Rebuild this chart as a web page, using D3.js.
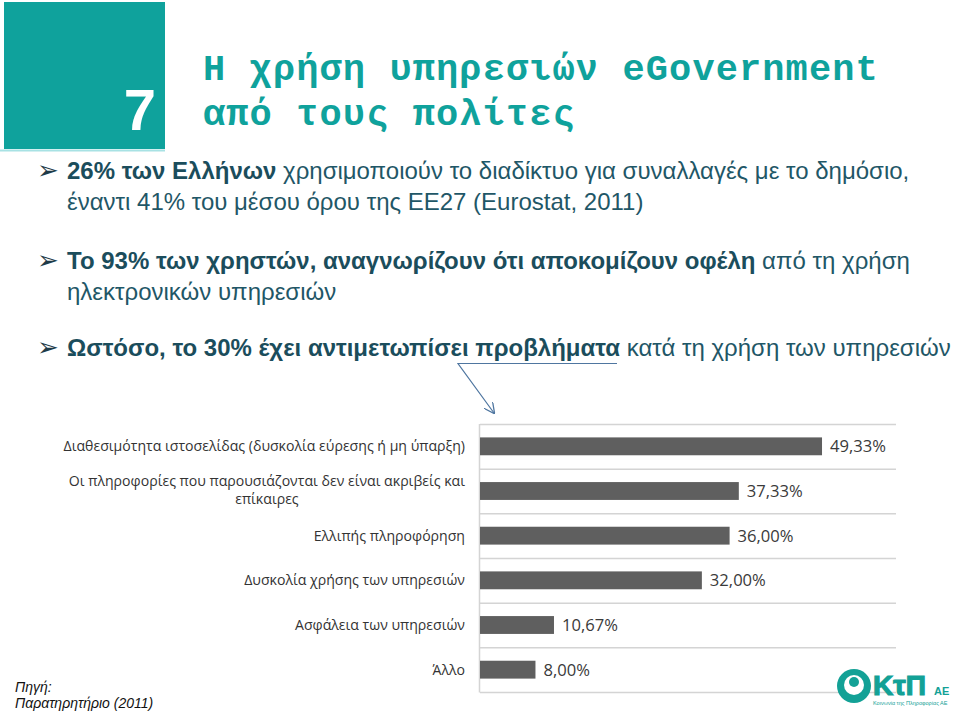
<!DOCTYPE html>
<html>
<head>
<meta charset="utf-8">
<script src="https://cdn.jsdelivr.net/npm/d3@7"></script>
<style>
  body { margin: 0; background: #fff; }
  svg { display: block; }
</style>
</head>
<body>
<div id="container"></div>
<script>
const categories = [
  'Διαθεσιμότητα  ιστοσελίδας (δυσκολία εύρεσης ή μη ύπαρξη)',
  'Οι πληροφορίες που παρουσιάζονται δεν είναι ακριβείς και\nεπίκαιρες',
  'Ελλιπής πληροφόρηση',
  'Δυσκολία χρήσης των υπηρεσιών',
  'Ασφάλεια των υπηρεσιών',
  'Άλλο',
];
const values = [49.33, 37.33, 36.0, 32.0, 10.67, 8.0];

const titleLines = ['Η χρήση υπηρεσιών eGovernment', 'από τους πολίτες'];

// each bullet: lines of [bold, regular] pieces
const bullets = [
  [
    ['26% των Ελλήνων', ' χρησιμοποιούν το διαδίκτυο για συναλλαγές με το δημόσιο,'],
    ['', 'έναντι 41% του μέσου όρου της ΕΕ27 (Eurostat, 2011)'],
  ],
  [
    ['Το 93% των χρηστών, αναγνωρίζουν ότι αποκομίζουν οφέλη', ' από τη χρήση'],
    ['', 'ηλεκτρονικών υπηρεσιών'],
  ],
  [
    ['Ωστόσο, το 30% έχει αντιμετωπίσει προβλήματα', ' κατά τη χρήση των υπηρεσιών'],
  ],
];
const bulletY = [179, 269, 356];

const width = 960;
const height = 712;
const teal = '#0fa29c';
const textColor = '#1f5767';

const svg = d3
  .select('#container')
  .append('svg')
  .attr('width', width)
  .attr('height', height);

// header box
svg.append('rect')
  .attr('x', 4).attr('y', 2)
  .attr('width', 161).attr('height', 147)
  .attr('fill', teal);
svg.append('line')
  .attr('x1', 0).attr('x2', 165).attr('y1', 150.5).attr('y2', 150.5)
  .attr('stroke', '#a8e2e4').attr('stroke-width', 2);
svg.append('text')
  .attr('x', 156).attr('y', 130)
  .attr('text-anchor', 'end')
  .attr('font-family', 'Liberation Sans, Arial, sans-serif')
  .attr('font-weight', 'bold')
  .attr('font-size', 58)
  .attr('fill', '#fff')
  .text('7');

svg.selectAll('.title')
  .data(titleLines)
  .enter()
  .append('text')
  .attr('class', 'title')
  .attr('x', 203)
  .attr('y', (d, i) => 80 + i * 45)
  .attr('font-family', 'Liberation Mono, monospace')
  .attr('font-weight', 'bold')
  .attr('font-size', 37)
  .attr('letter-spacing', 1.1)
  .attr('fill', teal)
  .text(d => d);

// bullets
bullets.forEach((lines, bi) => {
  svg.append('text')
    .attr('x', 37).attr('y', bulletY[bi])
    .attr('font-family', 'DejaVu Sans, sans-serif')
    .attr('font-size', 26)
    .attr('fill', '#1e3b48')
    .text('➢');
  lines.forEach((parts, li) => {
    const t = svg.append('text')
      .attr('x', 67)
      .attr('y', bulletY[bi] + li * 31)
      .attr('font-family', 'Liberation Sans, Arial, sans-serif')
      .attr('font-size', 24)
      .attr('fill', textColor);
    if (parts[0]) t.append('tspan').attr('font-weight', 'bold').attr('fill', '#1b4d5c').text(parts[0]);
    t.append('tspan').text(parts[1]);
  });
});

// connector arrow
svg.append('defs').append('marker')
  .attr('id', 'arrow')
  .attr('viewBox', '0 0 10 10')
  .attr('refX', 9).attr('refY', 5)
  .attr('markerWidth', 9).attr('markerHeight', 9)
  .attr('orient', 'auto')
  .append('path')
  .attr('d', 'M0,0 L10,5 L0,10')
  .attr('fill', 'none')
  .attr('stroke', '#4f76a0')
  .attr('stroke-width', 1.2);
svg.append('polyline')
  .attr('points', '617,363.5 458,363.5 494,413')
  .attr('fill', 'none')
  .attr('stroke', '#4f76a0')
  .attr('stroke-width', 1.2)
  .attr('marker-end', 'url(#arrow)');

// chart
const x = d3.scaleLinear().domain([0, 60]).range([480, 896]);
const y = d3.scaleBand()
  .domain(categories)
  .range([424, 692])
  .paddingInner(0.6)
  .paddingOuter(0.3);

const gridY = categories.map(c => y(c) - (y.step() * y.paddingInner()) / 2).concat([692]);

svg.selectAll('.grid')
  .data(gridY)
  .enter()
  .append('line')
  .attr('class', 'grid')
  .attr('x1', x(0)).attr('x2', x(60))
  .attr('y1', d => d + 0.5).attr('y2', d => d + 0.5)
  .attr('stroke', '#d4d4d4')
  .attr('stroke-width', 1.5);

svg.append('line')
  .attr('x1', x(0) - 0.5).attr('x2', x(0) - 0.5)
  .attr('y1', 424).attr('y2', 692.5)
  .attr('stroke', '#d4d4d4')
  .attr('stroke-width', 1.5);

svg.selectAll('.bar')
  .data(values)
  .enter()
  .append('rect')
  .attr('class', 'bar')
  .attr('x', x(0))
  .attr('y', (d, i) => y(categories[i]))
  .attr('width', d => x(d) - x(0))
  .attr('height', y.bandwidth())
  .attr('fill', '#5f5f5f');

const greek = d3.formatLocale({ decimal: ',', thousands: '.', grouping: [3], currency: ['', '€'] });
const fmt = greek.format('.2f');

svg.selectAll('.val')
  .data(values)
  .enter()
  .append('text')
  .attr('class', 'val')
  .attr('x', d => x(d) + 8)
  .attr('y', (d, i) => y(categories[i]) + y.bandwidth() / 2 + 6)
  .attr('font-family', 'Open Sans, sans-serif')
  .attr('font-size', 16.6)
  .attr('fill', '#3a3a3a')
  .text(d => fmt(d) + '%');

const labels = svg.selectAll('.cat')
  .data(categories)
  .enter()
  .append('text')
  .attr('class', 'cat')
  .attr('font-family', 'Open Sans, sans-serif')
  .attr('font-size', 14.1)
  .attr('fill', '#333');

labels.each(function (d) {
  const lines = d.split('\n');
  const t = d3.select(this);
  const cy = y(d) + y.bandwidth() / 2;
  const top = cy - ((lines.length - 1) * 18) / 2 + 5 - (lines.length > 1 ? 1 : 0);
  lines.forEach((line, i) => {
    t.append('tspan').attr('y', top + i * 18).text(line);
  });
  // right-align the block, centre wrapped lines within it
  const widths = [];
  t.selectAll('tspan').each(function () { widths.push(this.getComputedTextLength()); });
  const maxW = d3.max(widths);
  t.selectAll('tspan')
    .attr('x', 465 - maxW / 2)
    .attr('text-anchor', 'middle');
});

// source
svg.append('text')
  .attr('x', 15).attr('y', 692)
  .attr('font-family', 'Liberation Sans, Arial, sans-serif')
  .attr('font-style', 'italic')
  .attr('font-size', 14)
  .attr('fill', '#111')
  .selectAll('tspan')
  .data(['Πηγή:', 'Παρατηρητήριο (2011)'])
  .enter()
  .append('tspan')
  .attr('x', 15)
  .attr('dy', (d, i) => (i ? 16 : 0))
  .text(d => d);

// logo
const logo = svg.append('g').attr('transform', 'translate(854,686)');
logo.append('circle').attr('r', 17).attr('fill', '#13a196');
logo.append('circle').attr('r', 10).attr('cy', -1).attr('fill', '#fff');
logo.append('circle').attr('r', 5).attr('cy', -4).attr('fill', '#13a196');
logo.append('text')
  .attr('x', 19).attr('y', 9)
  .attr('font-family', 'Liberation Sans, Arial, sans-serif')
  .attr('font-weight', 'bold')
  .attr('font-size', 28)
  .attr('stroke', '#13a196')
  .attr('stroke-width', 1.2)
  .attr('fill', '#13a196')
  .text('ΚτΠ');
logo.append('text')
  .attr('x', 80).attr('y', 9)
  .attr('font-family', 'Liberation Sans, Arial, sans-serif')
  .attr('font-weight', 'bold')
  .attr('font-size', 11)
  .attr('fill', '#13a196')
  .text('ΑΕ');
logo.append('text')
  .attr('x', 19).attr('y', 19)
  .attr('font-family', 'Liberation Sans, Arial, sans-serif')
  .attr('font-size', 5.5)
  .attr('fill', '#13a196')
  .text('Κοινωνία της Πληροφορίας ΑΕ');
</script>
</body>
</html>
